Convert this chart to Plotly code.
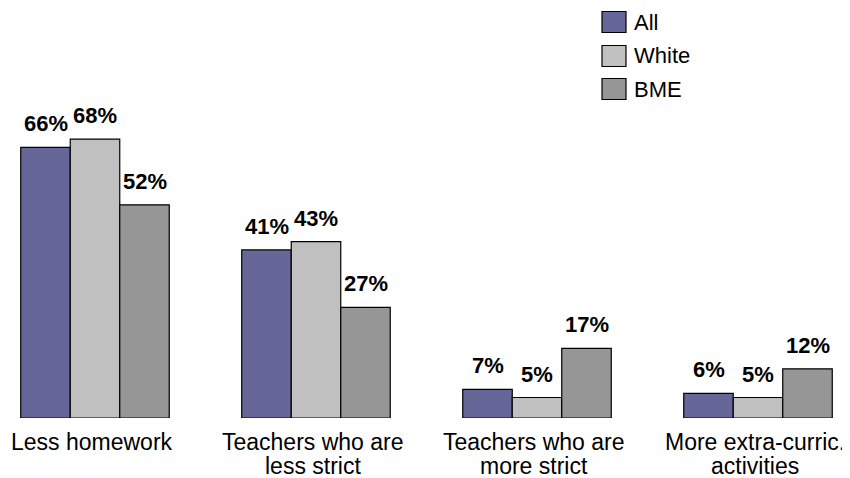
import plotly.graph_objects as go

categories = ["Less homework", "Teachers who are<br>less strict", "Teachers who are<br>more strict", "More extra-curric.<br>activities"]
series_names = ["All", "White", "BME"]
all_vals = [66, 41, 7, 6]
white_vals = [68, 43, 5, 5]
bme_vals = [52, 27, 17, 12]
colors = ["#666699", "#C0C0C0", "#969696"]

# page body has an 8px margin, so the figure is drawn 8px smaller
W, H = 842, 470
L, R, T, B = 0, 0, 82, 60
FONT = "Liberation Sans, Arial, sans-serif"
BAR_W = 0.224

x_idx = list(range(len(categories)))
fig = go.Figure()
for k, (name, vals, col) in enumerate(zip(series_names, [all_vals, white_vals, bme_vals], colors)):
    off = -1.5 * BAR_W + k * BAR_W
    fig.add_trace(go.Bar(
        x=x_idx, y=vals, name=name, width=BAR_W, offset=off,
        marker=dict(color=col, line=dict(color="#000000", width=1.2)),
        showlegend=False,
    ))
    for i, v in zip(x_idx, vals):
        fig.add_annotation(x=i + off + BAR_W / 2, y=v, xref="x", yref="y",
                           text=f"{v}%", showarrow=False, yanchor="bottom", yshift=9,
                           font=dict(family=FONT, size=22, color="#000000", weight="bold"))

pw, ph = W - L - R, H - T - B
def px_to_paper_x(px):
    return (px - L) / pw
def py_to_paper_y(py):
    return (H - B - py) / ph

# category labels, one annotation per text line (tighter line spacing than tick labels)
line_centers = [434, 458]
for i, cat in zip(x_idx, categories):
    for line, cy in zip(cat.split("<br>"), line_centers):
        fig.add_annotation(x=i, y=py_to_paper_y(cy), xref="x", yref="paper",
                           text=line, showarrow=False, xanchor="center", yanchor="middle",
                           xshift=-3,
                           font=dict(family=FONT, size=23, color="#000000"))

# legend drawn as boxes + labels
row_centers = [14, 48, 81]
for name, col, cy in zip(series_names, colors, row_centers):
    fig.add_shape(type="rect", xref="paper", yref="paper",
                  x0=px_to_paper_x(594), x1=px_to_paper_x(618),
                  y0=py_to_paper_y(cy + 10.5), y1=py_to_paper_y(cy - 10.5),
                  fillcolor=col, line=dict(color="#000000", width=1.2))
    fig.add_annotation(xref="paper", yref="paper", x=px_to_paper_x(624), y=py_to_paper_y(cy),
                       text=name, showarrow=False, xanchor="left", yanchor="middle",
                       font=dict(family=FONT, size=22, color="#000000"))

start = -87 / 221
fig.update_layout(
    width=W, height=H,
    margin=dict(l=L, r=R, t=T, b=B, autoexpand=False),
    paper_bgcolor="white", plot_bgcolor="white",
    font=dict(family=FONT, color="#000000"),
    xaxis=dict(range=[start, start + pw / 221], tickmode="array",
               tickvals=x_idx, showticklabels=False, automargin=False,
               showgrid=False, zeroline=False, showline=False, ticks=""),
    yaxis=dict(range=[0, 80], visible=False, showgrid=False, zeroline=False,
               automargin=False),
)

fig.write_html("out.html")
